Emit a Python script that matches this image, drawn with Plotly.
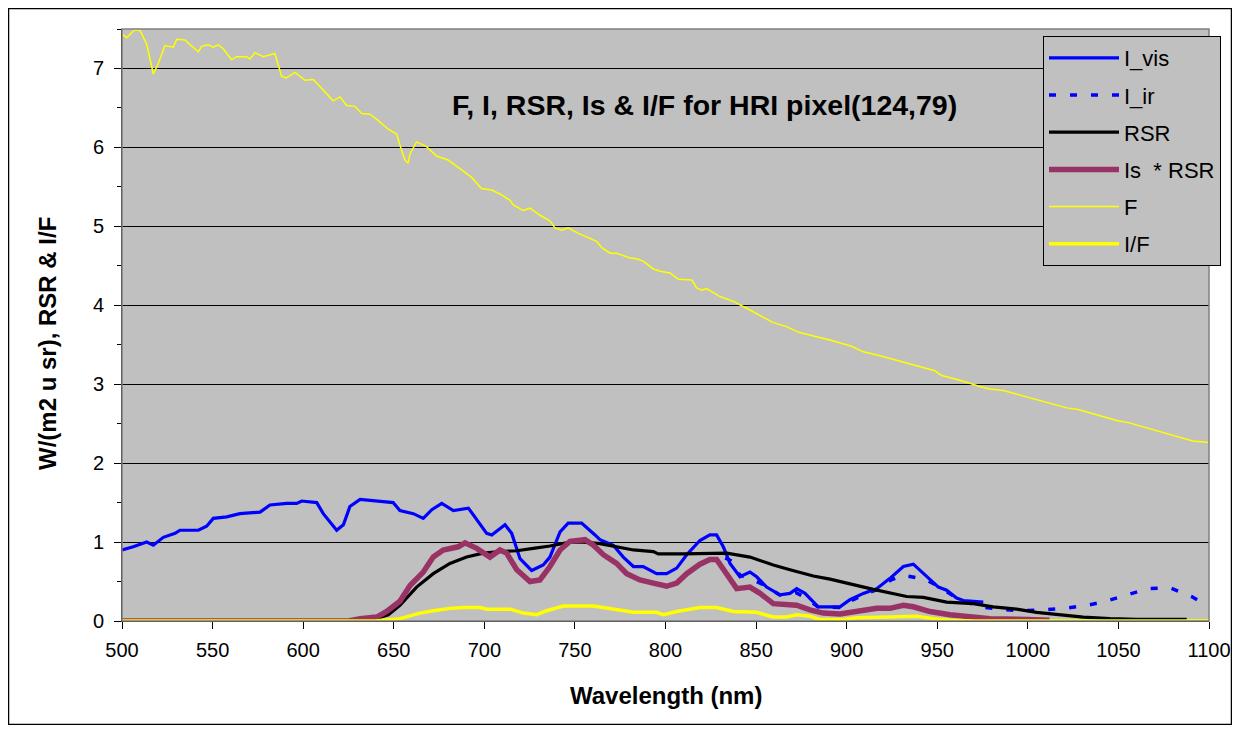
import plotly.graph_objects as go

# ---------------- data ----------------
f_wl = [500, 502.6, 507, 510, 513.6, 517.3, 520, 523.7, 528.3, 530.2, 534.7, 542.1, 543.9, 547.6,
        550.3, 553.1, 555.9, 560.5, 563.2, 568.8, 570.6, 573.4, 578, 584.4, 588.1, 590.8, 595.5,
        601, 605.6, 612, 616.6, 620.3, 624, 628.6, 632.3, 636.9, 641.5, 647, 651.6, 653.4, 656.2,
        658, 659, 662.6, 668.1, 673.6, 680, 686.5, 693, 698.4, 704, 708.6, 714.2, 716, 721.5,
        725.2, 730.7, 736.2, 739, 742.7, 746.3, 751.9, 758.3, 762, 764.8, 769.4, 773, 780.4,
        784.1, 787.7, 793.3, 797, 802.5, 807.1, 814.5, 817.2, 820, 822.7, 830.1, 837.4, 846.6,
        859.5, 866.8, 873.3, 881.6, 890.8, 902.7, 909.2, 918.4, 929.4, 936.8, 948.7, 952.4,
        962.5, 973.6, 979.1, 986.5, 995.7, 1010.4, 1021.5, 1027.8, 1049, 1056, 1070, 1080,
        1091, 1100]
f_val = [7.44, 7.39, 7.49, 7.48, 7.31, 6.93, 7.06, 7.29, 7.27, 7.37, 7.36, 7.21, 7.28, 7.30,
         7.27, 7.30, 7.25, 7.11, 7.15, 7.15, 7.12, 7.20, 7.15, 7.19, 6.90, 6.88, 6.95,
         6.85, 6.86, 6.70, 6.59, 6.64, 6.53, 6.52, 6.43, 6.42, 6.34, 6.23, 6.17, 6.03, 5.84,
         5.80, 5.92, 6.07, 6.01, 5.89, 5.84, 5.73, 5.62, 5.48, 5.46, 5.41, 5.33, 5.27, 5.20,
         5.23, 5.14, 5.07, 4.98, 4.95, 4.98, 4.91, 4.84, 4.81, 4.73, 4.66, 4.66, 4.60,
         4.59, 4.56, 4.46, 4.43, 4.41, 4.33, 4.32, 4.22, 4.19, 4.21, 4.11, 4.05, 3.94,
         3.78, 3.73, 3.66, 3.61, 3.56, 3.48, 3.41, 3.36, 3.29, 3.24, 3.17, 3.11,
         3.05, 2.97, 2.94, 2.92, 2.86, 2.77, 2.70, 2.68, 2.54, 2.51, 2.42, 2.35,
         2.28, 2.26]

ivis_wl = [500, 506.2, 513.6, 517.3, 522.8, 529.3, 532, 542.1, 546.7, 550.4, 557.8, 565.1, 576.2,
           581.7, 590.9, 596.4, 599.2, 607.5, 611.1, 618.5, 622.2, 625.8, 631.4, 636.9, 649.7,
           653.4, 660.8, 666.3, 671, 676.5, 682.9, 691.2, 694.8, 701.3, 704.1, 711.4, 715.1,
           719.7, 726.1, 732.5, 736.2, 741.8, 746.3, 753.7, 761.1, 763.8, 771.2, 776.7, 782.3,
           787.7, 795.1, 800.6, 806.2, 811.7, 819, 824.5, 828.2, 831.9, 835.6, 841.1, 846.6,
           850.3, 855.8, 863.2, 868.7, 872.4, 877, 884.3, 896.3, 901.8, 909.2, 916.6, 923.9,
           931.3, 936.8, 942.3, 950.6, 955.2, 960.7, 964.4, 975.4]
ivis_val = [0.90, 0.94, 1.00, 0.96, 1.06, 1.11, 1.15, 1.15, 1.20, 1.30, 1.32, 1.36, 1.38,
            1.47, 1.49, 1.49, 1.52, 1.50, 1.36, 1.15, 1.22, 1.45, 1.54, 1.53, 1.50,
            1.40, 1.36, 1.30, 1.41, 1.49, 1.40, 1.43, 1.32, 1.11, 1.09, 1.22, 1.11,
            0.79, 0.64, 0.71, 0.81, 1.13, 1.24, 1.24, 1.09, 1.03, 0.96, 0.81, 0.69,
            0.69, 0.60, 0.60, 0.67, 0.84, 1.02, 1.09, 1.09, 0.94, 0.73, 0.56, 0.62,
            0.56, 0.43, 0.33, 0.35, 0.41, 0.35, 0.18, 0.18, 0.27, 0.35, 0.41, 0.54,
            0.69, 0.72, 0.60, 0.43, 0.39, 0.29, 0.26, 0.24]

iir_wl = [833, 837.3, 841, 846.6, 855, 863, 872, 877, 884, 896, 902, 909, 917, 924.5, 931,
          938.5, 943, 950.6, 960, 965, 973.6, 984.6, 995.7, 1006.7, 1019.6, 1030.6, 1041.6,
          1054.6, 1066.5, 1078.5, 1090.4, 1100]
iir_val = [0.80, 0.75, 0.58, 0.54, 0.45, 0.33, 0.36, 0.30, 0.18, 0.17, 0.25, 0.33, 0.40, 0.52,
           0.58, 0.55, 0.53, 0.44, 0.30, 0.25, 0.18, 0.15, 0.13, 0.14, 0.16, 0.19, 0.24,
           0.33, 0.41, 0.42, 0.31, 0.18]

rsr_wl = [500, 630, 640, 647, 653.4, 662.6, 671.8, 681, 690.2, 699.4, 708.6, 717.9, 727, 736.2,
          747.3, 754.6, 763.8, 773, 782.3, 793.3, 796, 809.8, 819, 833.8, 846.6, 859.5, 868.7,
          881.6, 890.8, 901.8, 914.7, 933.1, 942.3, 955.2, 969.9, 980.9, 993.8, 1004.8, 1017.7,
          1030.6, 1045.3, 1060, 1087.7]
rsr_val = [0, 0, 0.03, 0.08, 0.20, 0.43, 0.60, 0.73, 0.81, 0.86, 0.88, 0.89, 0.92, 0.95,
           1.00, 1.00, 0.98, 0.94, 0.90, 0.88, 0.85, 0.85, 0.85, 0.86, 0.81, 0.71, 0.65,
           0.57, 0.53, 0.47, 0.40, 0.31, 0.30, 0.24, 0.22, 0.18, 0.15, 0.11, 0.08,
           0.05, 0.03, 0.02, 0.02]

isrsr_wl = [500, 625, 631.4, 640.6, 646.1, 653.4, 659, 666.3, 671.8, 677.3, 685.6, 689.3, 695.8,
            703.1, 708.6, 712.3, 717.9, 725.2, 730.7, 736.2, 741.8, 747.3, 755.6, 760.2, 765.7,
            773, 778.6, 785.9, 793.3, 800.6, 806.2, 811.7, 819, 824.5, 828.2, 833.8, 839.3,
            846.6, 852.2, 859.5, 866.8, 872.4, 879.7, 887.1, 896.3, 907.3, 916.6, 923.9, 931.3,
            936.8, 946, 957, 969.9, 979.1, 1000, 1012]
isrsr_val = [0, 0, 0.03, 0.05, 0.12, 0.25, 0.45, 0.62, 0.81, 0.90, 0.94, 0.99, 0.92,
             0.81, 0.90, 0.86, 0.65, 0.50, 0.52, 0.69, 0.90, 1.01, 1.03, 0.96, 0.84,
             0.73, 0.60, 0.52, 0.48, 0.44, 0.48, 0.60, 0.72, 0.78, 0.78, 0.60, 0.41,
             0.43, 0.35, 0.22, 0.20, 0.20, 0.14, 0.10, 0.09, 0.13, 0.16, 0.16, 0.20,
             0.18, 0.12, 0.08, 0.05, 0.03, 0.02, 0.01]

iof_wl = [500, 640, 653.4, 664.5, 671.8, 681, 688.4, 697.6, 701.3, 714.2, 721.6, 728.9, 734.4,
          743.6, 760.2, 773, 782.3, 795.1, 798.8, 806.2, 819, 828.2, 837.4, 850.3, 859.5, 866.8,
          872.4, 879.7, 885.3, 898.1, 905.5, 923.9, 938.6, 947.8, 957, 970, 1100]
iof_val = [0, 0, 0.03, 0.10, 0.13, 0.16, 0.17, 0.17, 0.15, 0.15, 0.10, 0.08, 0.13,
           0.19, 0.19, 0.14, 0.11, 0.11, 0.08, 0.12, 0.17, 0.17, 0.12, 0.11, 0.05, 0.05,
           0.08, 0.06, 0.02, 0.02, 0.04, 0.05, 0.06, 0.03, 0.01, 0, 0]

x_ticks = [500, 550, 600, 650, 700, 750, 800, 850, 900, 950, 1000, 1050, 1100]
y_ticks = [0, 1, 2, 3, 4, 5, 6, 7]

title_text = "F, I, RSR, Is & I/F for HRI pixel(124,79)"
x_title = "Wavelength (nm)"
y_title = "W/(m2 u sr), RSR & I/F"

# ---------------- figure ----------------
FONT = "Liberation Sans, Arial, sans-serif"
fig = go.Figure()

series = [
    ("I_vis", ivis_wl, ivis_val, dict(color="#0000FF", width=3.2)),
    ("I_ir", iir_wl, iir_val, dict(color="#0000FF", width=3.5, dash="7px,14px")),
    ("RSR", rsr_wl, rsr_val, dict(color="#000000", width=3.2)),
    ("Is  * RSR", isrsr_wl, isrsr_val, dict(color="#993366", width=5.5)),
    ("F", f_wl, f_val, dict(color="#FFFF00", width=1.5)),
    ("I/F", iof_wl, iof_val, dict(color="#FFFF00", width=3.5)),
]
for i, (name, xs, ys, line) in enumerate(series):
    fig.add_trace(go.Scatter(x=xs, y=ys, mode="lines", name=name, line=line,
                             legendgroup=str(i)))

# page body has an 8px margin; figure sized so the page is exactly 1240x733
OFF = 8
L, T = 114, 21
PW, PH = 1087, 592
W, H = 1224, 717
R = W - L - PW
B = H - T - PH

def px_x(sx):  # screen x -> paper
    return (sx - OFF - L) / PW

def px_y(sy):  # screen y -> paper
    return (OFF + T + PH - sy) / PH

fig.update_layout(
    width=W, height=H,
    margin=dict(l=L, r=R, t=T, b=B, autoexpand=False),
    paper_bgcolor="white",
    plot_bgcolor="#C0C0C0",
    font=dict(family=FONT, size=20, color="black"),
    showlegend=True,
    legend=dict(
        x=px_x(1043), y=px_y(36), xanchor="left", yanchor="top",
        bgcolor="#C0C0C0", bordercolor="black", borderwidth=1,
        font=dict(family=FONT, size=22, color="black"),
        itemwidth=70, tracegroupgap=5.6, traceorder="grouped",
    ),
    xaxis=dict(
        range=[500, 1100], tickvals=x_ticks, ticktext=[str(v) for v in x_ticks],
        ticks="outside", ticklen=7, tickcolor="black", tickwidth=1,
        showgrid=False, zeroline=False, showline=True, linecolor="black", linewidth=1,
        ticklabelstandoff=4, automargin=False,
    ),
    yaxis=dict(
        range=[0, 7.5], tickvals=y_ticks, ticktext=[str(v) for v in y_ticks],
        ticks="outside", ticklen=7, tickcolor="black", tickwidth=1,
        showgrid=True, gridcolor="black", gridwidth=1,
        zeroline=False, showline=True, linecolor="black", linewidth=1,
        minor=dict(dtick=0.5, ticks="outside", ticklen=4, tickcolor="black", showgrid=False),
        ticklabelstandoff=6, automargin=False,
    ),
    annotations=[
        dict(text="<b>" + title_text + "</b>", x=px_x(704), y=px_y(105), xref="paper", yref="paper",
             xanchor="center", yanchor="middle", showarrow=False,
             font=dict(family=FONT, size=28.5, color="black")),
        dict(text="<b>" + x_title + "</b>", x=px_x(666), y=px_y(695), xref="paper", yref="paper",
             xanchor="center", yanchor="middle", showarrow=False,
             font=dict(family=FONT, size=24, color="black")),
        dict(text="<b>" + y_title + "</b>", x=px_x(48), y=px_y(344), xref="paper", yref="paper",
             xanchor="center", yanchor="middle", showarrow=False, textangle=-90,
             font=dict(family=FONT, size=24, color="black")),
    ],
    shapes=[
        dict(type="rect", xref="paper", yref="paper", x0=0, x1=1, y0=0, y1=1,
             line=dict(color="#808080", width=1.5), layer="above"),
        dict(type="rect", xref="paper", yref="paper",
             x0=px_x(8.5), x1=px_x(1231.5), y0=px_y(724.5), y1=px_y(8.5),
             line=dict(color="black", width=1.5), layer="below"),
    ],
)

fig.write_html("out.html")
